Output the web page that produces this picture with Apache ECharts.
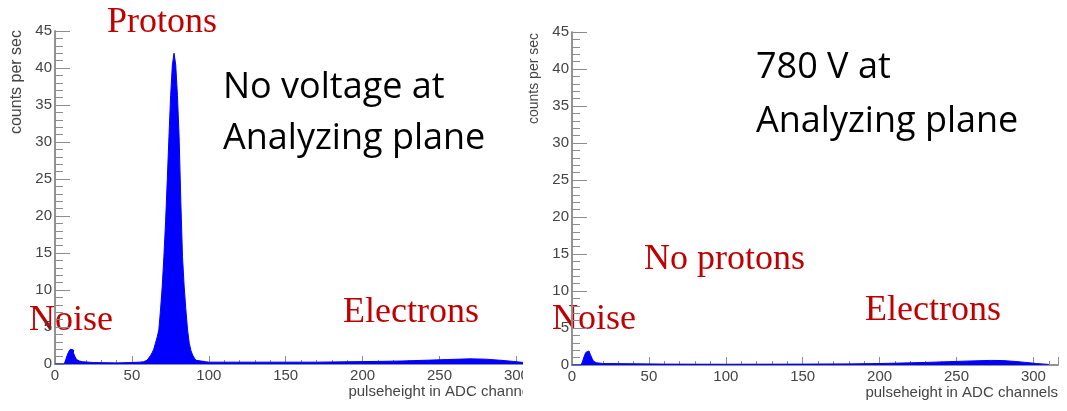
<!DOCTYPE html>
<html>
<head>
<meta charset="utf-8">
<title>Pulse height spectra</title>
<script src="https://cdn.jsdelivr.net/npm/echarts@6/dist/echarts.min.js"></script>
<style>
  html, body { margin: 0; padding: 0; background: #fff; }
  .panel { position: absolute; top: 0; height: 411px; overflow: hidden; }
  .chart { height: 411px; }
</style>
</head>
<body>
<div class="panel" style="left:0;width:523px"><div class="chart" id="left_chart" style="width:600px"></div></div>
<div class="panel" style="left:524px;width:543px"><div class="chart" id="right_chart" style="width:543px"></div></div>
<script>
// lower bin edges (ADC channel) and counts per sec
const leftChannel = [0, 6, 7, 8, 9, 10, 11, 12, 13, 14, 15, 16, 18, 25, 40, 50, 55,
  57.6, 58.7, 59.8, 60.9, 62.0, 63.1, 64.2, 65.3, 66.4, 67.5, 68.6, 69.7, 70.8, 71.9, 73.0, 74.1,
  75.2, 76.3, 77.4, 78.5, 79.6, 80.7, 81.8, 82.9, 84.0, 85.1, 86.2, 87.3, 88.4, 89.5, 90.6, 91.7, 92.8,
  95, 98, 100, 120, 150, 170, 190, 210, 225, 240, 255, 270, 280, 290, 298, 305, 310]
const leftCounts = [0, 0.2, 0.6, 1.2, 1.7, 2.0, 1.9, 1.5, 1.0, 0.6, 0.4, 0.3, 0.2, 0.15, 0.2, 0.25, 0.3,
  0.4, 0.5, 0.6, 0.8, 1.1, 1.5, 2.0, 2.8, 3.6, 4.6, 7.3, 10.4, 14.5, 19.2, 24.9, 30.7,
  36.3, 40.4, 42.0, 40.4, 36.3, 30.7, 22.0, 14.5, 10.4, 7.3, 4.6, 2.8, 1.8, 1.2, 0.8, 0.5, 0.4,
  0.3, 0.25, 0.25, 0.25, 0.25, 0.3, 0.35, 0.4, 0.5, 0.6, 0.7, 0.65, 0.5, 0.35, 0.2, 0.1, 0]

const rightChannel = [0, 6, 7, 8, 9, 10, 11, 12, 13, 14, 15, 16, 20, 60, 100, 150, 180, 200,
  215, 230, 245, 260, 272, 280, 288, 295, 302, 310]
const rightCounts = [0, 0.2, 0.6, 1.2, 1.7, 1.9, 1.8, 1.4, 0.9, 0.5, 0.3, 0.2, 0.12, 0.1, 0.12, 0.15, 0.2, 0.27,
  0.35, 0.45, 0.55, 0.62, 0.6, 0.48, 0.35, 0.2, 0.08, 0]

const xMax = 316
const yMax = 45
const xTitle = 'pulseheight in ADC channels'
const yTitle = 'counts per sec'

const axisGray = '#8c8c8c'
const labelGray = '#444'
const red = '#c00000'

function pairs (xs, ys) {
  return xs.map((x, i) => [x, ys[i]])
}

function redText (text, x, y) {
  return {
    type: 'text', x: x, y: y, silent: true,
    style: { text: text, fill: red, font: '36px "Liberation Serif"', verticalAlign: 'middle' }
  }
}

function blackText (text, x, y) {
  return {
    type: 'text', x: x, y: y, silent: true,
    style: { text: text, fill: '#000', font: '36px "Open Sans"', verticalAlign: 'middle' }
  }
}

function yName (x, y, size) {
  return {
    type: 'text', x: x, y: y, rotation: Math.PI / 2, silent: true,
    style: { text: yTitle, fill: labelGray, font: size + 'px "Liberation Sans"', align: 'right', verticalAlign: 'middle' }
  }
}

function buildOption (gridLeft, gridTop, data, texts) {
  return {
    animation: false,
    grid: { left: gridLeft, top: gridTop, width: 486, height: 333, outerBoundsMode: 'none', containLabel: false },
    xAxis: [
      {
        type: 'value', min: 0, max: xMax, interval: 50,
        name: xTitle, nameLocation: 'end', nameGap: 0,
        nameTextStyle: { color: labelGray, fontSize: 15, fontFamily: 'Liberation Sans', align: 'right', verticalAlign: 'top', padding: [20, 0, 0, 0] },
        axisLine: { lineStyle: { color: axisGray, width: 1.5 } },
        axisTick: { inside: true, length: 8, lineStyle: { color: axisGray } },
        minorTick: { show: true, splitNumber: 5, length: 4, lineStyle: { color: axisGray } },
        axisLabel: { color: labelGray, fontSize: 15, fontFamily: 'Liberation Sans', margin: 4, showMaxLabel: false },
        splitLine: { show: false }
      },
      {
        type: 'value', position: 'top', min: 0, max: xMax,
        axisLine: { show: true, lineStyle: { color: axisGray, width: 1.5 } },
        axisTick: { show: false }, axisLabel: { show: false }, splitLine: { show: false }
      }
    ],
    yAxis: [
      {
        type: 'value', min: 0, max: yMax, interval: 5,
        axisLine: { show: true, lineStyle: { color: axisGray, width: 1.5 } },
        axisTick: { show: true, inside: true, length: 15, lineStyle: { color: axisGray } },
        minorTick: { show: true, splitNumber: 5, length: 8, lineStyle: { color: axisGray } },
        axisLabel: { color: labelGray, fontSize: 15, fontFamily: 'Liberation Sans', margin: 3 },
        splitLine: { show: false }
      },
      {
        type: 'value', position: 'right', min: 0, max: yMax,
        axisLine: { show: true, lineStyle: { color: axisGray, width: 1.5 } },
        axisTick: { show: false }, axisLabel: { show: false }, splitLine: { show: false }
      }
    ],
    series: [
      {
        type: 'line', step: 'end', symbol: 'none', data: data,
        lineStyle: { color: '#0000ff', width: 1 },
        areaStyle: { color: '#0000ff', opacity: 1 },
        z: 3
      }
    ],
    graphic: texts
  }
}

const leftChart = echarts.init(document.getElementById('left_chart'))
leftChart.setOption(buildOption(55, 31, pairs(leftChannel, leftCounts), [
  yName(17, 30, 16),
  redText('Protons', 107, 23),
  redText('Noise', 29, 321),
  redText('Electrons', 343, 313),
  blackText('No voltage at', 223, 88),
  blackText('Analyzing plane', 223, 139)
]))

const rightChart = echarts.init(document.getElementById('right_chart'))
rightChart.setOption(buildOption(48, 32, pairs(rightChannel, rightCounts), [
  yName(10, 33, 14),
  redText('No protons', 120, 260),
  redText('Noise', 28, 320),
  redText('Electrons', 341, 311),
  blackText('780 V at', 232, 68),
  blackText('Analyzing plane', 232, 122)
]))
</script>
</body>
</html>
